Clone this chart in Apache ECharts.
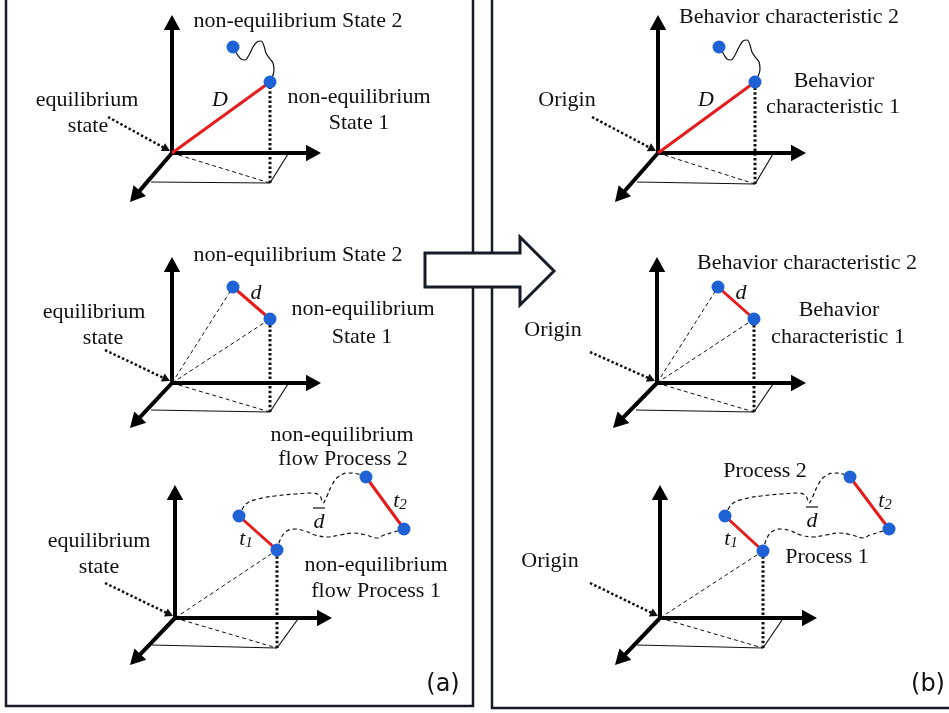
<!DOCTYPE html>
<html>
<head>
<meta charset="utf-8">
<style>
html, body { margin: 0; padding: 0; background: #fff; }
#main { width: 949px; height: 713px; }
</style>
<script src="https://cdn.jsdelivr.net/npm/echarts@6/dist/echarts.min.js"></script>
</head>
<body>
<div id="main"></div>
<script>
// panel frames [x0, y0, x1, y1] and the big arrow between them
const panels = [[6, -6, 473, 706], [492, -6, 956, 708]];
const bigArrow = [[425, 253], [520, 253], [520, 237], [554, 271], [520, 305], [520, 287], [425, 287]];

// six 3-D frames: (a) top, middle, bottom, then (b) top, middle, bottom
const origins    = [[172, 153], [172, 383], [175, 618], [658, 153], [657, 383], [660, 618]];
const upTips     = [[172, 15],  [172, 257], [175, 485], [658, 15],  [657, 257], [660, 485]];
const rightTips  = [[321, 153], [321, 383], [332, 618], [806, 153], [806, 383], [817, 618]];
const diagTips   = [[130, 202], [130, 428], [130, 665], [615, 202], [613, 428], [615, 665]];
const feet       = [[270, 183], [270, 412], [277, 648], [755, 184], [754, 412], [763, 648]];
const floorLeft  = [[151, 182], [151, 410], [152, 645], [637, 182], [636, 410], [637, 645]];
const floorRight = [[288, 154], [288, 384], [298, 619], [773, 154], [773, 384], [782, 620]];
const state1     = [[270, 82],  [270, 319], [277, 550], [755, 82],  [754, 319], [763, 551]];
const state2     = [[233, 47],  [233, 287], [239, 516], [719, 47],  [718, 287], [725, 516]];
const proc2Start = [[366, 477], [850, 477]];
const proc2End   = [[404, 529], [889, 529]];

// dotted pointers from the origin labels
const pointerFrom = [[108, 117], [105, 350], [105, 583], [592, 117], [590, 352], [590, 583]];
const pointerTo   = [[170, 151], [170, 381], [173, 616], [656, 151], [655, 381], [658, 616]];

// wiggly paths
const wiggleA = [[233, 48], [237, 54], [241, 59], [245, 60], [249, 55], [253, 47], [257, 42], [261, 41], [264, 46], [266, 53], [270, 59], [273, 63], [274, 70], [272, 78]];
const wiggleB = [[719, 47], [723, 53], [727, 59], [731, 60], [735, 55], [739, 47], [743, 41], [747, 40], [750, 45], [752, 52], [756, 58], [759, 62], [760, 69], [757, 78]];
const flowA2 = [[239, 516], [246, 504], [258, 499], [275, 496], [295, 494], [313, 493], [320, 496], [323, 503], [327, 496], [332, 485], [338, 477], [348, 473], [358, 474], [366, 477]];
const flowA1 = [[277, 550], [281, 538], [287, 531], [295, 529], [305, 531], [315, 535], [327, 537], [340, 535], [353, 533], [366, 535], [377, 538], [384, 535], [394, 532], [404, 529]];
const flowB2 = [[725, 516], [732, 504], [744, 499], [761, 496], [781, 494], [799, 493], [806, 496], [809, 503], [813, 496], [818, 485], [824, 477], [834, 473], [843, 474], [850, 477]];
const flowB1 = [[763, 551], [767, 538], [773, 531], [781, 529], [791, 531], [801, 535], [813, 537], [826, 535], [839, 533], [852, 535], [863, 538], [870, 535], [880, 532], [889, 529]];
const overbars = [[[313, 508], [325, 508]], [[806, 507], [818, 507]]];

// text
const plainText = [
  'non-equilibrium State 2', 'non-equilibrium', 'State 1', 'equilibrium', 'state',
  'non-equilibrium State 2', 'non-equilibrium', 'State 1', 'equilibrium', 'state',
  'non-equilibrium', 'flow Process 2', 'non-equilibrium', 'flow Process 1', 'equilibrium', 'state',
  'Behavior characteristic 2', 'Behavior', 'characteristic 1', 'Origin',
  'Behavior characteristic 2', 'Behavior', 'characteristic 1', 'Origin',
  'Process 2', 'Process 1', 'Origin'
];
const plainPos = [
  [298, 21], [359, 97], [359, 123], [87, 100], [88, 126],
  [298, 255], [363, 309], [362, 337], [94, 312], [103, 338],
  [342, 435], [343, 459], [376, 565], [376, 591], [99, 541], [99, 567],
  [789, 17], [834, 81], [833, 107], [567, 100],
  [807, 263], [839, 310], [838, 337], [553, 330],
  [765, 471], [827, 557], [550, 561]
];
const mathText = ['D', 'd', 't_1', 't_2', 'd', 'D', 'd', 't_1', 't_2', 'd'];
const mathPos = [[220, 100], [256, 293], [246, 539], [400, 501], [319, 522],
                 [706, 100], [741, 293], [731, 539], [885, 501], [812, 521]];
const tagText = ['(a)', '(b)'];
const tagPos = [[443, 685], [928, 685]];

const INK = '#111111';
const FRAME = '#161b27';
const RED = '#e61c1c';
const BLUE = '#1f62d6';
const SERIF = '"Liberation Serif", "Times New Roman", serif';

function pairs(a, b) {
    return a.map(function (p, i) { return [p, b[i]]; });
}

function segSeries(segs, width, color, dash, head, z) {
    return {
        type: 'custom',
        coordinateSystem: 'cartesian2d',
        silent: true,
        clip: false,
        z: z,
        data: segs.map(function (s) { return [s[0][0], s[0][1], s[1][0], s[1][1]]; }),
        renderItem: function (params, api) {
            const a = api.coord([api.value(0), api.value(1)]);
            const b = api.coord([api.value(2), api.value(3)]);
            const children = [];
            let end = b;
            if (head) {
                const dx = b[0] - a[0], dy = b[1] - a[1];
                const len = Math.sqrt(dx * dx + dy * dy);
                const ux = dx / len, uy = dy / len;
                const bx = b[0] - ux * head, by = b[1] - uy * head;
                const hw = head * 0.55;
                children.push({
                    type: 'polygon',
                    shape: { points: [b, [bx - uy * hw, by + ux * hw], [bx + uy * hw, by - ux * hw]] },
                    style: { fill: color }
                });
                end = [b[0] - ux * head * 0.8, b[1] - uy * head * 0.8];
            }
            children.unshift({
                type: 'line',
                shape: { x1: a[0], y1: a[1], x2: end[0], y2: end[1] },
                style: { stroke: color, lineWidth: width, lineDash: dash, fill: null }
            });
            return { type: 'group', children: children };
        }
    };
}

function curveSeries(points, dashed) {
    return {
        type: 'line',
        data: points,
        smooth: 0.4,
        symbol: 'none',
        silent: true,
        clip: false,
        z: 4,
        lineStyle: { color: INK, width: 1.2, type: dashed ? [4, 3] : 'solid' }
    };
}

function textSeries(texts, pos, z) {
    return {
        type: 'custom',
        coordinateSystem: 'cartesian2d',
        silent: true,
        clip: false,
        z: z,
        data: pos,
        renderItem: function (params, api) {
            const p = api.coord([api.value(0), api.value(1)]);
            const t = texts[params.dataIndex];
            return { type: 'text', x: p[0], y: p[1], style: textStyle(t, params.seriesName) };
        }
    };
}

function textStyle(t, kind) {
    const base = { align: 'center', verticalAlign: 'middle', fill: INK };
    if (kind === 'tag') {
        return Object.assign(base, { text: t, font: '24px "DejaVu Sans", sans-serif' });
    }
    if (kind === 'math') {
        if (t.indexOf('_') > 0) {
            const s = t.split('_');
            return Object.assign(base, {
                text: '{i|' + s[0] + '}{s|' + s[1] + '}',
                rich: {
                    i: { font: 'italic 22px ' + SERIF, fill: INK },
                    s: { font: 'italic 15px ' + SERIF, fill: INK, padding: [9, 0, 0, 0] }
                }
            });
        }
        return Object.assign(base, { text: t, font: 'italic 22px ' + SERIF });
    }
    return Object.assign(base, { text: t, font: '22px ' + SERIF });
}

const axisSegs = []
    .concat(pairs(origins, upTips))
    .concat(pairs(origins, rightTips))
    .concat(pairs(origins, diagTips));
const floorSegs = pairs(floorLeft, feet).concat(pairs(feet, floorRight)).concat(overbars);
const dashSegs = pairs(origins, feet)
    .concat([1, 2, 4, 5].map(function (i) { return [origins[i], state1[i]]; }))
    .concat([1, 4].map(function (i) { return [origins[i], state2[i]]; }));
const dropSegs = pairs(feet, state1);
const redSegs = [0, 3].map(function (i) { return [origins[i], state1[i]]; })
    .concat([1, 4].map(function (i) { return [state2[i], state1[i]]; }))
    .concat([2, 5].map(function (i) { return [state2[i], state1[i]]; }))
    .concat(pairs(proc2Start, proc2End));
const dots = state1.concat(state2).concat(proc2Start).concat(proc2End);

const chart = echarts.init(document.getElementById('main'));

const panelSeries = {
    type: 'custom',
    coordinateSystem: 'cartesian2d',
    silent: true,
    clip: false,
    z: 1,
    data: panels,
    renderItem: function (params, api) {
        const a = api.coord([api.value(0), api.value(1)]);
        const b = api.coord([api.value(2), api.value(3)]);
        return {
            type: 'rect',
            shape: { x: a[0], y: a[1], width: b[0] - a[0], height: b[1] - a[1] },
            style: { fill: null, stroke: FRAME, lineWidth: 2.5 }
        };
    }
};

const arrowSeries = {
    type: 'custom',
    coordinateSystem: 'cartesian2d',
    silent: true,
    clip: false,
    z: 2,
    data: [[bigArrow[0][0], bigArrow[0][1]]],
    renderItem: function (params, api) {
        return {
            type: 'polygon',
            shape: { points: bigArrow.map(function (p) { return api.coord(p); }) },
            style: { fill: '#ffffff', stroke: FRAME, lineWidth: 3, lineJoin: 'miter' }
        };
    }
};

const option = {
    animation: false,
    grid: { left: 0, right: 0, top: 0, bottom: 0 },
    xAxis: { type: 'value', min: 0, max: 949, show: false },
    yAxis: { type: 'value', min: 0, max: 713, inverse: true, show: false },
    series: [
        panelSeries,
        arrowSeries,
        segSeries(floorSegs, 1.2, INK, null, 0, 3),
        segSeries(dashSegs, 1, INK, [4, 3], 0, 3),
        segSeries(dropSegs, 3, INK, [2.5, 2.2], 0, 3),
        segSeries(pairs(pointerFrom, pointerTo), 2.5, INK, [2.5, 2.2], 8, 3),
        segSeries(axisSegs, 4, '#000000', null, 15, 5),
        curveSeries(wiggleA, false),
        curveSeries(wiggleB, false),
        curveSeries(flowA2, true),
        curveSeries(flowA1, true),
        curveSeries(flowB2, true),
        curveSeries(flowB1, true),
        segSeries(redSegs, 3, RED, null, 0, 6),
        {
            type: 'scatter',
            data: dots,
            symbolSize: 13,
            silent: true,
            z: 7,
            itemStyle: { color: BLUE, opacity: 1 }
        },
        Object.assign(textSeries(plainText, plainPos, 8), { name: 'plain' }),
        Object.assign(textSeries(mathText, mathPos, 8), { name: 'math' }),
        Object.assign(textSeries(tagText, tagPos, 8), { name: 'tag' })
    ]
};

chart.setOption(option);

window.addEventListener('resize', function () {
    chart.resize();
});
</script>
</body>
</html>
